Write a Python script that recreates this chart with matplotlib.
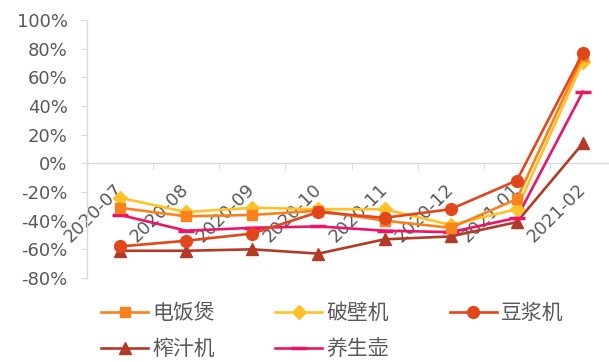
import matplotlib
matplotlib.use("Agg")
import matplotlib.pyplot as plt
from matplotlib.ticker import FixedLocator, FuncFormatter

categories = ["2020-07", "2020-08", "2020-09", "2020-10", "2020-11", "2020-12", "2021-01", "2021-02"]
dianfanbao = [-31, -37, -36, -33, -40, -45, -25, 75]
pobiji = [-24, -34, -31, -32, -32, -43, -32, 71]
doujiangji = [-58, -54, -49, -34, -38, -32, -12, 77]
zhazhiji = [-61, -61, -60, -63, -53, -51, -41, 14]
yangshenghu = [-36, -47, -45, -44, -47, -48, -38, 50]

names = ["电饭煲", "破壁机", "豆浆机", "榨汁机", "养生壶"]
colors = ["#F7821E", "#FFC127", "#E2461B", "#B23A26", "#EC1467"]

plt.rcParams['font.family'] = ['DejaVu Sans']

fig = plt.figure(figsize=(6.09, 3.62), dpi=100)
ax = fig.add_axes([87/609, 84/362, 529/609, 258/362])

x = list(range(len(categories)))
lw = 1.9
h_zz, = ax.plot(x, zhazhiji, color=colors[3], lw=lw, marker='^', ms=9, zorder=3)
h_ys, = ax.plot(x, yangshenghu, color=colors[4], lw=lw, marker='_', ms=11, mew=2.5, zorder=4)
h_pb, = ax.plot(x, pobiji, color=colors[1], lw=lw, marker='D', ms=7, zorder=5)
h_df, = ax.plot(x, dianfanbao, color=colors[0], lw=lw, marker='s', ms=7, zorder=6)
h_dj, = ax.plot(x, doujiangji, color=colors[2], lw=lw, marker='o', ms=8.5, zorder=7)

ax.set_xlim(-0.47, 7.5)
ax.set_ylim(-80, 100)
ax.yaxis.set_major_locator(FixedLocator(list(range(-80, 101, 20))))
ax.yaxis.set_major_formatter(FuncFormatter(lambda v, p: f"{int(v)}%"))

for s in ['top', 'right']:
    ax.spines[s].set_visible(False)
ax.spines['left'].set_color('#D9D9D9')
ax.spines['bottom'].set_color('#D9D9D9')
ax.spines['bottom'].set_position(('data', 0))
ax.spines['left'].set_linewidth(1.0)
ax.spines['bottom'].set_linewidth(1.0)

ax.tick_params(axis='y', colors='#D9D9D9', labelcolor='#595959', labelsize=13, length=4, pad=10)
ax.set_xticks(x)
ax.set_xticklabels(categories)
ax.set_xticks([i + 0.5 for i in range(-1, 8)], minor=True)
ax.tick_params(axis='x', which='major', length=0, pad=17, labelcolor='#595959', labelsize=13)
ax.tick_params(axis='x', which='minor', length=5, color='#D9D9D9', direction='out')
for lab in ax.get_xticklabels():
    lab.set_rotation(45)
    lab.set_ha('right')
    lab.set_va('center')
    lab.set_rotation_mode('anchor')

handles = [h_df, h_zz, h_pb, h_ys, h_dj]
labels = ["电饭煲", "榨汁机", "破壁机", "养生壶", "豆浆机"]
leg = fig.legend(handles, labels, ncol=3, loc='upper left', bbox_to_anchor=(101/609, 1 - 302/362),
                 frameon=False, handlelength=2.26, columnspacing=2.9, labelspacing=0.68,
                 handletextpad=0.2, borderpad=0, borderaxespad=0,
                 prop={'family': ['Noto Sans CJK SC', 'DejaVu Sans'], 'size': 15})
for t in leg.get_texts():
    t.set_color('#595959')

fig.savefig("out.png", dpi=100)
